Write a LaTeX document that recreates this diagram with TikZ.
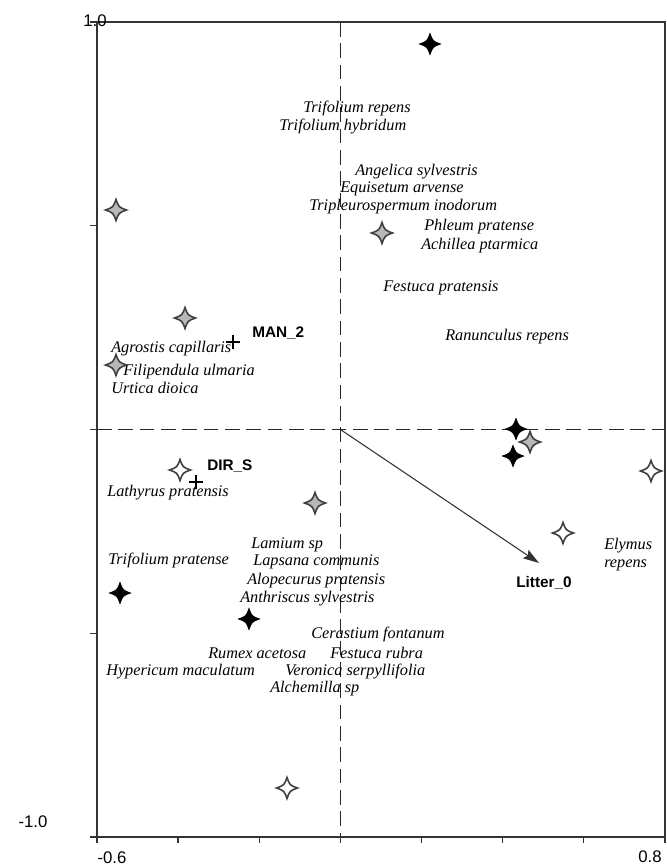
\documentclass[tikz,border=0pt]{standalone}
\usepackage{fontspec}
\setmainfont{Liberation Serif}
\setsansfont{Liberation Sans}
\usetikzlibrary{arrows.meta}
\tikzset{
  ax/.style={line width=1.1pt, draw=black!80},
  dashax/.style={line width=1pt, draw=black!85, dash pattern=on 11pt off 5pt},
  tickln/.style={line width=1pt, draw=black!80},
  sp/.style={font=\fontsize{12.2}{14}\selectfont\itshape, inner sep=0pt, anchor=base west},
  lab/.style={font=\fontsize{11.5}{13}\selectfont\sffamily\bfseries, inner sep=0pt, anchor=west},
  num/.style={font=\fontsize{12.6}{14}\selectfont\sffamily, inner sep=0pt},
  star4/.pic={\path[pic actions] (10.5,0) .. controls (2.8,2.8) .. (0,10.5) .. controls (-2.8,2.8) .. (-10.5,0) .. controls (-2.8,-2.8) .. (0,-10.5) .. controls (2.8,-2.8) .. (10.5,0) -- cycle;},
  plusmk/.pic={\draw[line width=0.8pt, black] (-7,0) -- (7,0) (0,-7) -- (0,7);},
  blk/.style={fill=black, draw=black, line width=0.6pt},
  gry/.style={fill=black!28, draw=black!75, line width=1.2pt},
  wht/.style={fill=white, draw=black!75, line width=1.2pt},
  vec/.style={line width=0.8pt, draw=black!80, -{Stealth[length=12pt, width=7.5pt, inset=2pt]}}
}
\begin{document}
\begin{tikzpicture}[x=0.75pt, y=-0.75pt]
\useasboundingbox (0,0) rectangle (667,868);
\fill[white] (0,0) rectangle (667,868);
% frame corners
\coordinate (tl) at (97,22);
\coordinate (tr) at (665,22);
\coordinate (bl) at (97,837);
\coordinate (br) at (665,837);
\coordinate (O) at (340.4,429.5);
\coordinate (vt) at (340.4,22);
\coordinate (vb) at (340.4,837);
\coordinate (hl) at (97,429.5);
\coordinate (hr) at (665,429.5);
% dashed zero lines
\draw[dashax] (vt) -- (vb);
\draw[dashax] (hl) -- (hr);
% frame
\draw[ax] (tl) -- (tr) -- (br) -- (bl) -- cycle;
% ticks
\foreach \yy in {22,225.75,429.5,633.25,837} \draw[tickln] (90,\yy) -- (97,\yy);
\foreach \xx in {97,178.1,259.3,340.4,421.6,502.7,583.8,665} \draw[tickln] (\xx,837) -- (\xx,843);
% axis numbers
\node[num] (ny1) at (95,21) {1.0};
\node[num] (ny2) at (33,822) {-1.0};
\node[num] (nx1) at (112,858) {-0.6};
\node[num] (nx2) at (650,857) {0.8};
% environmental vector
\coordinate (lit) at (539,563);
\draw[vec] (O) -- (lit);
% species labels
\node[sp] (s1) at (303,112) {Trifolium repens};
\node[sp] (s2) at (279,130) {Trifolium hybridum};
\node[sp] (s3) at (355,175) {Angelica sylvestris};
\node[sp] (s4) at (340,192) {Equisetum arvense};
\node[sp] (s5) at (309,210) {Tripleurospermum inodorum};
\node[sp] (s6) at (424,230) {Phleum pratense};
\node[sp] (s7) at (421,249) {Achillea ptarmica};
\node[sp] (s8) at (383,291) {Festuca pratensis};
\node[sp] (s9) at (445,340) {Ranunculus repens};
\node[sp] (s10) at (111,352) {Agrostis capillaris};
\node[sp] (s11) at (123,375) {Filipendula ulmaria};
\node[sp] (s12) at (111,393) {Urtica dioica};
\node[sp] (s13) at (107,496) {Lathyrus pratensis};
\node[sp] (s14) at (108,564) {Trifolium pratense};
\node[sp] (s15) at (251,548) {Lamium sp};
\node[sp] (s16) at (253,565) {Lapsana communis};
\node[sp] (s17) at (247,584) {Alopecurus pratensis};
\node[sp] (s18) at (240,602) {Anthriscus sylvestris};
\node[sp] (s19) at (311,638) {Cerastium fontanum};
\node[sp] (s20) at (208,658) {Rumex acetosa};
\node[sp] (s21) at (330,658) {Festuca rubra};
\node[sp] (s22) at (106,675) {Hypericum maculatum};
\node[sp] (s23) at (285,675) {Veronica serpyllifolia};
\node[sp] (s24) at (270,692) {Alchemilla sp};
\node[sp] (s25) at (604,549) {Elymus};
\node[sp] (s26) at (604,567) {repens};
% variable labels
\node[lab] (l1) at (252,333) {MAN\_2};
\node[lab] (l2) at (207,466) {DIR\_S};
\node[lab] (l3) at (516,583) {Litter\_0};
% plus markers
\pic at (233,342) {plusmk};
\pic at (196,482) {plusmk};
% black stars
\pic[blk] at (430,44) {star4};
\pic[blk] at (516,429) {star4};
\pic[blk] at (513,456) {star4};
\pic[blk] at (120,593) {star4};
\pic[blk] at (249,619) {star4};
% gray stars
\pic[gry] at (116,210) {star4};
\pic[gry] at (382,233) {star4};
\pic[gry] at (185,318) {star4};
\pic[gry] at (116,365) {star4};
\pic[gry] at (315,503) {star4};
\pic[gry] at (530,442) {star4};
% white stars
\pic[wht] at (180,470) {star4};
\pic[wht] at (651,471) {star4};
\pic[wht] at (563,533) {star4};
\pic[wht] at (287,788) {star4};
\end{tikzpicture}
\end{document}
